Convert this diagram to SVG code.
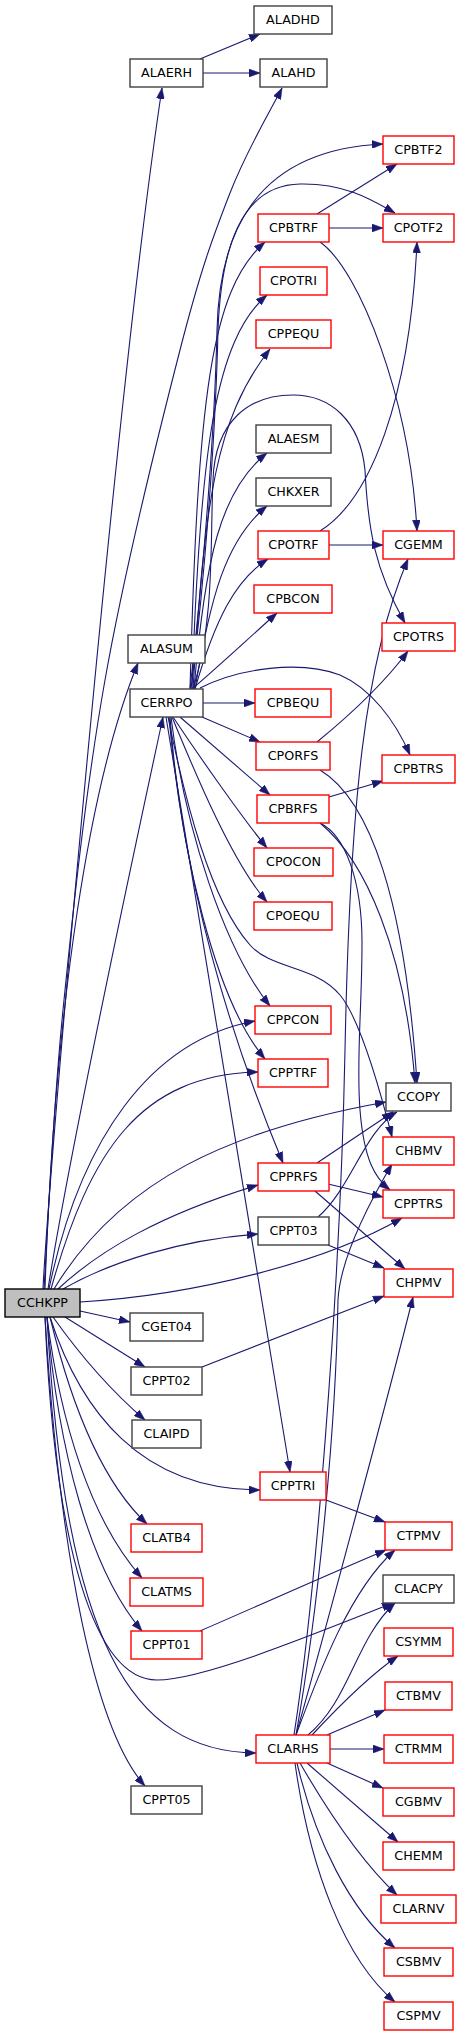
<svg xmlns="http://www.w3.org/2000/svg" width="461" height="2036" viewBox="0 0 461 2036">
<style>
.n rect{fill:#fff;stroke:#404040;stroke-width:1.4}
.r rect{stroke:#ff0000}
.n text{font-family:"DejaVu Sans",sans-serif;font-size:12.7px;text-anchor:middle;fill:#000}
#edges path{fill:none;stroke:#191970;stroke-width:1.1;marker-end:url(#a)}
</style>
<defs>
<marker id="a" viewBox="0 0 11 8" refX="11" refY="4" markerWidth="11" markerHeight="8" markerUnits="userSpaceOnUse" orient="auto"><path d="M0,0 L11,4 L0,8 z" fill="#191970" stroke="#191970" stroke-width="0.5"/></marker>
</defs>
<rect width="461" height="2036" fill="#fff"/>
<g id="edges">
<path d="M200,59 L260,34"/>
<path d="M203,73 L260,73"/>
<path d="M43,1289 C48,1180 115,400 162,88"/>
<path d="M44,1289 C47,1242 52.8,1111.5 63,1010 C73.2,908.5 85.5,790 105,680 C124.5,570 159.2,431 180,350 C200.8,269 213,236.7 230,193 C247,149.3 273.3,105.5 282,88"/>
<path d="M45,1289 C55,1000 90,780 138,663"/>
<path d="M48,1289 C70,1150 130,870 163,717"/>
<path d="M49,1289 C80,1140 150,1040 255,1021"/>
<path d="M51,1289 C90,1150 140,1075 258,1072"/>
<path d="M54,1289 C120,1180 230,1130 386,1102"/>
<path d="M58,1289 C100,1250 160,1215 258,1185"/>
<path d="M63,1289 C110,1262 180,1240 258,1234"/>
<path d="M80,1302 C200,1295 330,1260 402,1218"/>
<path d="M80,1311 L130,1322"/>
<path d="M65,1317 L145,1367"/>
<path d="M53,1317 C80,1355 110,1390 145,1420"/>
<path d="M50,1317 C80,1410 140,1490 260,1490"/>
<path d="M50,1317 C70,1400 100,1480 147,1524"/>
<path d="M47,1317 C60,1420 90,1520 142,1578"/>
<path d="M47,1317 C58,1450 90,1570 142,1631"/>
<path d="M45,1317 C55,1550 95,1680 157,1680 C200,1680 300,1640 393,1603"/>
<path d="M47,1317 C65,1640 130,1752 256,1753"/>
<path d="M45,1317 C60,1560 95,1730 145,1786"/>
<path d="M192,689 C220,665 250,637 277,613"/>
<path d="M195,689 C215,620 235,580 268,559"/>
<path d="M195,689 C210,600 225,540 267,506"/>
<path d="M194,689 C205,560 220,490 267,453"/>
<path d="M193,689 C205,500 215,420 270,349"/>
<path d="M192,689 C200,450 215,340 267,295"/>
<path d="M190,689 C198,400 210,290 265,242"/>
<path d="M190,689 C205,560 215,420 217,330 C219,240 250,150 383,144"/>
<path d="M191,689 C207,560 216,420 218,330 C221,250 240,185 300,184 C345,183 372,200 395,213"/>
<path d="M193,689 C215,620 210,540 213,480 C215,420 250,395 293,395 C330,395 360,420 365,470 C368,530 375,570 405,623"/>
<path d="M200,688 C240,668 300,660 340,675 C370,688 395,720 410,755"/>
<path d="M203,703 L255,703"/>
<path d="M202,717 L260,742"/>
<path d="M180,717 L270,795"/>
<path d="M173,717 C195,750 240,815 267,848"/>
<path d="M172,717 C190,760 230,860 267,902"/>
<path d="M171,717 C185,830 225,950 270,1006"/>
<path d="M170,717 C180,850 215,1000 265,1059"/>
<path d="M169,717 C185,900 240,1060 283,1163"/>
<path d="M166,717 L290,1472"/>
<path d="M168,717 C185,800 210,900 250,945 C272,970 315,965 340,995 C360,1019 380,1090 392,1137"/>
<path d="M320,823 C345,835 362,880 362,943 C362,1010 356,1060 360,1110 C364,1160 375,1178 390,1190"/>
<path d="M320,770 C370,800 405,900 417,1083"/>
<path d="M320,823 C365,860 405,950 415,1083"/>
<path d="M329,797 L383,781"/>
<path d="M317,742 C350,715 385,682 408,651"/>
<path d="M317,214 L397,164"/>
<path d="M329,228 L383,228"/>
<path d="M320,242 C360,270 410,400 417,531"/>
<path d="M320,531 C370,500 410,400 417,242"/>
<path d="M329,545 L383,545"/>
<path d="M317,1163 L393,1112"/>
<path d="M328,1184 L383,1197"/>
<path d="M315,1191 L405,1269"/>
<path d="M318,1217 C350,1190 365,1130 397,1112"/>
<path d="M328,1245 L384,1268"/>
<path d="M202,1367 L384,1296"/>
<path d="M296,1735 C320,1650 390,1390 413,1297"/>
<path d="M294,1735 C315,1600 340,1300 345,1050 C350,800 365,660 408,559"/>
<path d="M296,1735 C320,1600 336,1420 338,1300 C340,1260 365,1210 392,1164"/>
<path d="M296,1735 C320,1670 350,1590 395,1550"/>
<path d="M200,1631 C260,1605 320,1578 386,1550"/>
<path d="M326,1500 L385,1522"/>
<path d="M308,1735 C350,1700 355,1640 395,1603"/>
<path d="M312,1735 C340,1705 370,1675 398,1656"/>
<path d="M327,1735 L385,1710"/>
<path d="M330,1749 L384,1749"/>
<path d="M327,1763 L383,1788"/>
<path d="M307,1763 L398,1842"/>
<path d="M300,1763 C330,1815 365,1865 397,1895"/>
<path d="M297,1763 C315,1840 350,1910 395,1948"/>
<path d="M295,1763 C310,1870 345,1960 395,2002"/>
</g>
<g id="ALADHD" class="n"><rect x="254" y="6" width="78" height="28"/><text x="293" y="24">ALADHD</text></g>
<g id="ALAERH" class="n"><rect x="130" y="59" width="73" height="28"/><text x="166.5" y="77">ALAERH</text></g>
<g id="ALAHD" class="n"><rect x="260" y="59" width="67" height="28"/><text x="293.5" y="77">ALAHD</text></g>
<g id="CPBTF2" class="n r"><rect x="383" y="136" width="71" height="28"/><text x="418.5" y="154">CPBTF2</text></g>
<g id="CPBTRF" class="n r"><rect x="258" y="214" width="71" height="28"/><text x="293.5" y="232">CPBTRF</text></g>
<g id="CPOTF2" class="n r"><rect x="383" y="214" width="71" height="28"/><text x="418.5" y="232">CPOTF2</text></g>
<g id="CPOTRI" class="n r"><rect x="260" y="267" width="67" height="28"/><text x="293.5" y="285">CPOTRI</text></g>
<g id="CPPEQU" class="n r"><rect x="256" y="320" width="75" height="28"/><text x="293.5" y="338">CPPEQU</text></g>
<g id="ALAESM" class="n"><rect x="256" y="425" width="75" height="28"/><text x="293.5" y="443">ALAESM</text></g>
<g id="CHKXER" class="n"><rect x="256" y="478" width="75" height="28"/><text x="293.5" y="496">CHKXER</text></g>
<g id="CPOTRF" class="n r"><rect x="258" y="531" width="71" height="28"/><text x="293.5" y="549">CPOTRF</text></g>
<g id="CGEMM" class="n r"><rect x="383" y="531" width="71" height="28"/><text x="418.5" y="549">CGEMM</text></g>
<g id="CPBCON" class="n r"><rect x="254" y="585" width="78" height="28"/><text x="293" y="603">CPBCON</text></g>
<g id="CPOTRS" class="n r"><rect x="382" y="623" width="73" height="28"/><text x="418.5" y="641">CPOTRS</text></g>
<g id="ALASUM" class="n"><rect x="128" y="635" width="77" height="28"/><text x="166.5" y="653">ALASUM</text></g>
<g id="CERRPO" class="n"><rect x="130" y="689" width="73" height="28"/><text x="166.5" y="707">CERRPO</text></g>
<g id="CPBEQU" class="n r"><rect x="255" y="689" width="76" height="28"/><text x="293" y="707">CPBEQU</text></g>
<g id="CPORFS" class="n r"><rect x="256" y="742" width="74" height="28"/><text x="293" y="760">CPORFS</text></g>
<g id="CPBTRS" class="n r"><rect x="382" y="755" width="73" height="28"/><text x="418.5" y="773">CPBTRS</text></g>
<g id="CPBRFS" class="n r"><rect x="257" y="795" width="72" height="28"/><text x="293" y="813">CPBRFS</text></g>
<g id="CPOCON" class="n r"><rect x="254" y="848" width="79" height="28"/><text x="293.5" y="866">CPOCON</text></g>
<g id="CPOEQU" class="n r"><rect x="254" y="902" width="78" height="28"/><text x="293" y="920">CPOEQU</text></g>
<g id="CPPCON" class="n r"><rect x="255" y="1006" width="76" height="28"/><text x="293" y="1024">CPPCON</text></g>
<g id="CPPTRF" class="n r"><rect x="258" y="1059" width="70" height="28"/><text x="293" y="1077">CPPTRF</text></g>
<g id="CCOPY" class="n"><rect x="386" y="1083" width="65" height="28"/><text x="418.5" y="1101">CCOPY</text></g>
<g id="CHBMV" class="n r"><rect x="383" y="1137" width="71" height="28"/><text x="418.5" y="1155">CHBMV</text></g>
<g id="CPPRFS" class="n r"><rect x="258" y="1163" width="71" height="28"/><text x="293.5" y="1181">CPPRFS</text></g>
<g id="CPPTRS" class="n r"><rect x="383" y="1190" width="71" height="28"/><text x="418.5" y="1208">CPPTRS</text></g>
<g id="CPPT03" class="n"><rect x="258" y="1217" width="71" height="28"/><text x="293.5" y="1235">CPPT03</text></g>
<g id="CHPMV" class="n r"><rect x="384" y="1269" width="69" height="28"/><text x="418.5" y="1287">CHPMV</text></g>
<g id="CCHKPP" class="n"><rect x="5" y="1289" width="75" height="28" style="fill:#bfbfbf;stroke:#000"/><text x="42.5" y="1307">CCHKPP</text></g>
<g id="CGET04" class="n"><rect x="130" y="1313" width="73" height="28"/><text x="166.5" y="1331">CGET04</text></g>
<g id="CPPT02" class="n"><rect x="131" y="1367" width="71" height="28"/><text x="166.5" y="1385">CPPT02</text></g>
<g id="CLAIPD" class="n"><rect x="132" y="1420" width="69" height="28"/><text x="166.5" y="1438">CLAIPD</text></g>
<g id="CPPTRI" class="n r"><rect x="260" y="1472" width="66" height="28"/><text x="293" y="1490">CPPTRI</text></g>
<g id="CLATB4" class="n r"><rect x="131" y="1524" width="71" height="28"/><text x="166.5" y="1542">CLATB4</text></g>
<g id="CTPMV" class="n r"><rect x="385" y="1522" width="67" height="28"/><text x="418.5" y="1540">CTPMV</text></g>
<g id="CLATMS" class="n r"><rect x="130" y="1578" width="73" height="28"/><text x="166.5" y="1596">CLATMS</text></g>
<g id="CLACPY" class="n"><rect x="383" y="1575" width="71" height="28"/><text x="418.5" y="1593">CLACPY</text></g>
<g id="CPPT01" class="n r"><rect x="131" y="1631" width="71" height="28"/><text x="166.5" y="1649">CPPT01</text></g>
<g id="CSYMM" class="n r"><rect x="384" y="1628" width="69" height="28"/><text x="418.5" y="1646">CSYMM</text></g>
<g id="CTBMV" class="n r"><rect x="385" y="1682" width="67" height="28"/><text x="418.5" y="1700">CTBMV</text></g>
<g id="CLARHS" class="n r"><rect x="256" y="1735" width="74" height="28"/><text x="293" y="1753">CLARHS</text></g>
<g id="CTRMM" class="n r"><rect x="384" y="1735" width="69" height="28"/><text x="418.5" y="1753">CTRMM</text></g>
<g id="CPPT05" class="n"><rect x="131" y="1786" width="71" height="28"/><text x="166.5" y="1804">CPPT05</text></g>
<g id="CGBMV" class="n r"><rect x="383" y="1788" width="71" height="28"/><text x="418.5" y="1806">CGBMV</text></g>
<g id="CHEMM" class="n r"><rect x="383" y="1842" width="71" height="28"/><text x="418.5" y="1860">CHEMM</text></g>
<g id="CLARNV" class="n r"><rect x="381" y="1895" width="75" height="28"/><text x="418.5" y="1913">CLARNV</text></g>
<g id="CSBMV" class="n r"><rect x="384" y="1948" width="69" height="28"/><text x="418.5" y="1966">CSBMV</text></g>
<g id="CSPMV" class="n r"><rect x="384" y="2002" width="69" height="28"/><text x="418.5" y="2020">CSPMV</text></g>
</svg>
